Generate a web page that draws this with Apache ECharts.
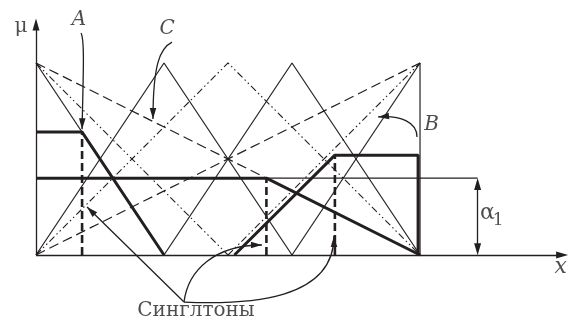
<!DOCTYPE html>
<html>
<head>
<meta charset="utf-8">
<script src="https://cdn.jsdelivr.net/npm/echarts@6/dist/echarts.min.js"></script>
<style>
html, body { margin: 0; padding: 0; background: #fff; }
#main { width: 571px; height: 325px; }
</style>
</head>
<body>
<div id="main"></div>
<script>
// membership functions, x in universe units, mu in 0..1
var solidMF = [
  [[0, 1], [2, 0]],
  [[0, 0], [2, 1], [4, 0]],
  [[2, 0], [4, 1], [6, 0]],
  [[4, 0], [6, 1]]
];
var dashDotMF = [
  [[0, 1], [3, 0]],
  [[0, 0], [3, 1], [6, 0]],
  [[3, 0], [6, 1]]
];
var dashedMF = [
  [[0, 1], [6, 0]],
  [[0, 0], [6, 1]]
];
// singletons and the clipped sets they give
var singletonX = [0.72, 3.6, 4.67];
var singletonMu = [0.64, 0.4, 0.52];
var cutA = [[0, 0.64], [0.72, 0.64], [2, 0]];
var cutC = [[0, 0.4], [3.6, 0.4], [6, 0]];
var cutB = [[3.1, 0], [4.67, 0.52], [5.97, 0.52], [5.97, 0]];
var alpha1 = 0.4;
var alphaX = 6.9;
var xEnd = 6;

// pointer curves (start, control 1, control 2, tip) in data units
var pointers = [
  [[0.703, 1.156], [0.766, 1.12], [0.734, 0.911], [0.72, 0.655]],   // A
  [[2.125, 1.109], [1.94, 1.078], [1.828, 0.995], [1.828, 0.708]],  // C
  [[5.953, 0.615], [5.953, 0.693], [5.69, 0.729], [5.344, 0.719]],  // B
  [[2.3125, -0.245], [1.807, -0.08], [1.302, 0.085], [0.797, 0.25]], // singleton 1 (straight)
  [[2.3125, -0.245], [2.375, -0.078], [2.797, 0.052], [3.53, 0.052]],
  [[2.3125, -0.245], [3.344, -0.26], [4.656, -0.234], [4.656, 0.099]]
];

var ink = '#231f20';
var serif = 'DejaVu Serif';

var myChart = echarts.init(document.getElementById('main'));

function mfSeries(list, type, width) {
  return list.map(function (pts) {
    return {
      type: 'line',
      data: pts,
      showSymbol: false,
      silent: true,
      lineStyle: { color: ink, width: width, type: type }
    };
  });
}

function arrow(from, to, both) {
  return {
    type: 'line', data: [], silent: true,
    markLine: {
      silent: true,
      symbol: [both ? 'triangle' : 'none', 'triangle'],
      symbolSize: [7, 12],
      label: { show: false },
      emphasis: { disabled: true },
      lineStyle: { color: ink, width: 1.3, type: 'solid' },
      data: [[{ coord: from }, { coord: to }]]
    }
  };
}

function txt(text, pos, size, italic) {
  return {
    value: pos,
    label: {
      show: true,
      formatter: text,
      position: 'inside',
      fontFamily: serif,
      fontSize: size,
      fontStyle: italic ? 'italic' : 'normal',
      color: ink
    }
  };
}

var series = []
  .concat(mfSeries(solidMF, 'solid', 1.2))
  .concat(mfSeries(dashDotMF, [7, 3, 1.5, 3, 1.5, 3], 1.1))
  .concat(mfSeries(dashedMF, [10, 5], 1.2));

// thin right edge and alpha level
series.push({
  type: 'line', showSymbol: false, silent: true,
  data: [[xEnd, 0], [xEnd, 1]],
  lineStyle: { color: ink, width: 1.2 }
});
series.push({
  type: 'line', showSymbol: false, silent: true,
  data: [[0, alpha1], [alphaX, alpha1]],
  lineStyle: { color: ink, width: 1.2 }
});

// thick clipped sets
[cutA, cutC, cutB].forEach(function (pts) {
  series.push({
    type: 'line', showSymbol: false, silent: true,
    data: pts,
    lineStyle: { color: ink, width: 3 }
  });
});

// singletons
singletonX.forEach(function (x, i) {
  series.push({
    type: 'line', showSymbol: false, silent: true,
    data: [[x, 0], [x, singletonMu[i]]],
    lineStyle: { color: ink, width: 2.6, type: [8, 4] }
  });
});

// axes and alpha1 measure
series.push(arrow([0, 0], [8.22, 0]));
series.push(arrow([0, 0], [0, 1.2]));
series.push(arrow([alphaX, 0.03], [alphaX, alpha1 - 0.03], true));

// texts
series.push({
  type: 'scatter', silent: true, symbolSize: 0,
  data: [
    txt('μ', [-0.234, 1.19], 20),
    txt('A', [0.67, 1.227], 20, true),
    txt('C', [2.05, 1.18], 20, true),
    txt('B', [6.18, 0.677], 20, true),
    txt('x', [8.2, -0.0625], 22, true),
    txt('α', [7.055, 0.216], 22),
    txt('1', [7.22, 0.177], 17),
    txt('Синглтоны', [2.5, -0.292], 20)
  ]
});

myChart.setOption({
  animation: false,
  grid: { left: 0, right: 0, top: 0, bottom: 0 },
  xAxis: { type: 'value', min: -0.5625, max: 8.359, show: false },
  yAxis: { type: 'value', min: -0.3646, max: 1.328, show: false },
  series: series
});

// curved pointers with arrow heads, placed through the grid scales
function px(p) {
  return myChart.convertToPixel({ gridIndex: 0 }, p);
}
function head(tip, prev) {
  var dx = tip[0] - prev[0], dy = tip[1] - prev[1];
  var len = Math.sqrt(dx * dx + dy * dy) || 1;
  dx /= len; dy /= len;
  var bx = tip[0] - dx * 11, by = tip[1] - dy * 11;
  var w = 3.3;
  return {
    type: 'polygon', silent: true,
    shape: { points: [tip, [bx - dy * w, by + dx * w], [bx + dy * w, by - dx * w]] },
    style: { fill: ink }
  };
}
var graphics = [];
pointers.forEach(function (c) {
  var p = c.map(px);
  graphics.push({
    type: 'bezierCurve', silent: true,
    shape: {
      x1: p[0][0], y1: p[0][1],
      cpx1: p[1][0], cpy1: p[1][1],
      cpx2: p[2][0], cpy2: p[2][1],
      x2: p[3][0], y2: p[3][1]
    },
    style: { stroke: ink, lineWidth: 1.3, fill: 'none' }
  });
  graphics.push(head(p[3], p[2]));
});
myChart.setOption({ graphic: graphics });
</script>
</body>
</html>
